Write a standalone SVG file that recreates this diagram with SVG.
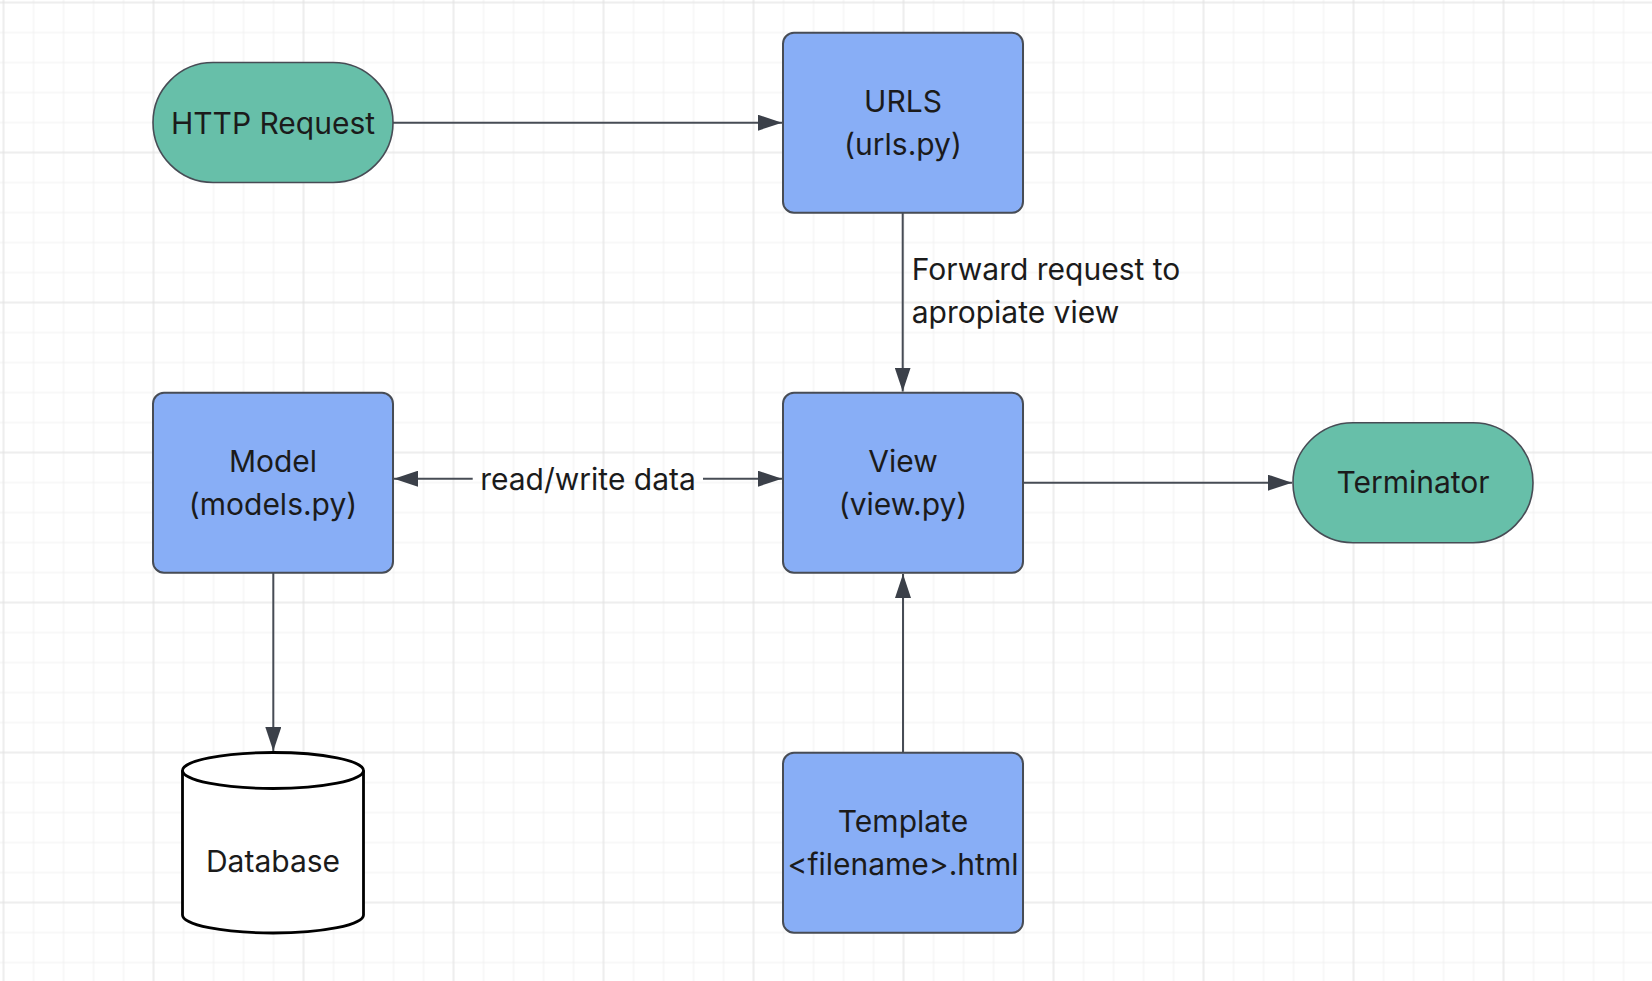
<svg xmlns="http://www.w3.org/2000/svg" width="1652" height="981" viewBox="0 0 1652 981">
<style>
.t{font-family:Inter,"Noto Sans","Liberation Sans",sans-serif;font-size:30px;fill:#1b1b1b}
.m{text-anchor:middle}
.box{fill:#88aef6;stroke:#474c55;stroke-width:2}
.pill{fill:#67bfa9;stroke:#474c55;stroke-width:1.6}
.conn{fill:none;stroke:#474c55;stroke-width:2}
</style>
<defs>
<pattern id="gMinor" patternUnits="userSpaceOnUse" x="-11.5" y="-12.5" width="30" height="30">
<path d="M15,0V30M0,15H30" stroke="#f0f0f0" stroke-width="1" fill="none"/>
</pattern>
<pattern id="gMajor" patternUnits="userSpaceOnUse" x="-71.5" y="-72.5" width="150" height="150">
<path d="M75,0V150M0,75H150" stroke="#e3e3e3" stroke-width="1" fill="none"/>
</pattern>
<marker id="arr" markerUnits="userSpaceOnUse" markerWidth="24" markerHeight="16" refX="24" refY="8" orient="auto-start-reverse" viewBox="0 0 24 16">
<path d="M0,0L24,8L0,16Z" fill="#3b4049"/>
</marker>
</defs>
<rect width="1652" height="981" fill="#ffffff"/>
<rect width="1652" height="981" fill="url(#gMinor)"/>
<rect width="1652" height="981" fill="url(#gMajor)"/>

<g id="connectors">
<path class="conn" d="M393,122.7H782" marker-end="url(#arr)"/>
<path class="conn" d="M902.7,212.7V391.5" marker-end="url(#arr)"/>
<path class="conn" d="M394,478.7H472.7" marker-start="url(#arr)"/>
<path class="conn" d="M703,478.7H782" marker-end="url(#arr)"/>
<path class="conn" d="M1023,482.7H1292" marker-end="url(#arr)"/>
<path class="conn" d="M273.3,572.7V751" marker-end="url(#arr)"/>
<path class="conn" d="M903,752.7V574" marker-end="url(#arr)"/>
<text class="t" x="911.7" y="280">Forward request to</text>
<text class="t" x="911.7" y="322.7">apropiate view</text>
<text class="t m" x="588" y="490">read/write data</text>
</g>

<g id="http-request">
<rect class="pill" x="153" y="62.5" width="240" height="120" rx="60"/>
<text class="t m" x="273" y="134">HTTP Request</text>
</g>

<g id="urls">
<rect class="box" x="783" y="32.7" width="240" height="180" rx="11"/>
<text class="t m" x="903" y="112.3">URLS</text>
<text class="t m" x="903" y="155">(urls.py)</text>
</g>

<g id="model">
<rect class="box" x="153" y="392.7" width="240" height="180" rx="11"/>
<text class="t m" x="273" y="472.3">Model</text>
<text class="t m" x="273" y="515">(models.py)</text>
</g>

<g id="view">
<rect class="box" x="783" y="392.7" width="240" height="180" rx="11"/>
<text class="t m" x="903" y="472.3">View</text>
<text class="t m" x="903" y="515">(view.py)</text>
</g>

<g id="terminator">
<rect class="pill" x="1293" y="422.7" width="240" height="120" rx="60"/>
<text class="t m" x="1413" y="493.3">Terminator</text>
</g>

<g id="template">
<rect class="box" x="783" y="752.7" width="240" height="180" rx="11"/>
<text class="t m" x="903" y="831.7">Template</text>
<text class="t m" x="903" y="875">&lt;filename&gt;.html</text>
</g>

<g id="database">
<path d="M182.5,770.5A90.5,18 0 0 1 363.5,770.5V915A90.5,18 0 0 1 182.5,915Z" fill="#ffffff" stroke="#000000" stroke-width="2.8"/>
<path d="M182.5,770.5A90.5,18 0 0 0 363.5,770.5" fill="none" stroke="#000000" stroke-width="2.8"/>
<text class="t m" x="273" y="871.7">Database</text>
</g>
</svg>
